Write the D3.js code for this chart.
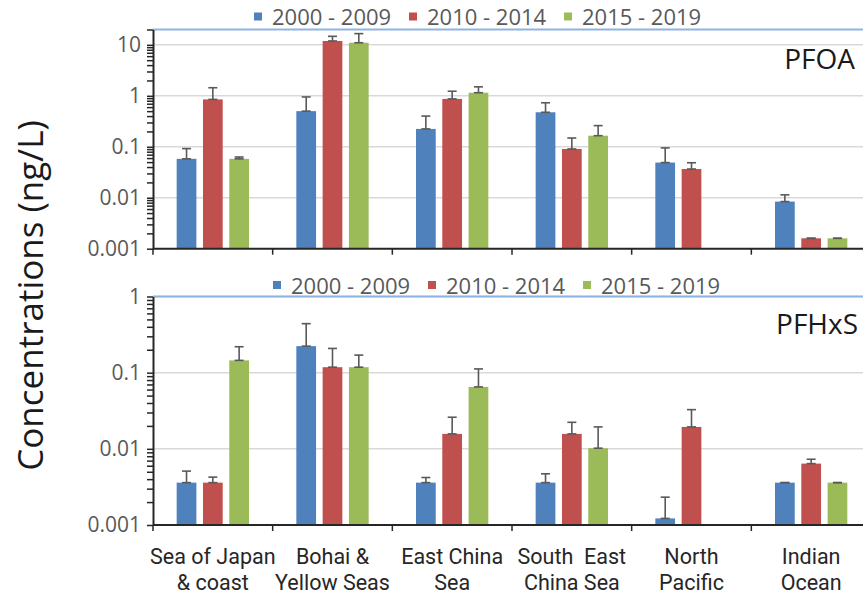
<!DOCTYPE html>
<html>
<head>
<meta charset="utf-8">
<script src="https://cdn.jsdelivr.net/npm/d3@7"></script>
<style>
  html, body { margin: 0; padding: 0; background: #fff; }
  svg { display: block; font-family: "Open Sans", sans-serif; }
</style>
</head>
<body>
<svg id="chart" width="863" height="600"></svg>
<script>
// Sampling regions (x axis categories), one label line per array entry
const categories = ["Sea of Japan & coast", "Bohai & Yellow Seas", "East China Sea",
                    "South East China Sea", "North Pacific", "Indian Ocean"];
const categoryLines = [["Sea of Japan", "& coast"], ["Bohai &", "Yellow Seas"], ["East China", "Sea"],
                       ["South  East", "China Sea"], ["North", "Pacific"], ["Indian", "Ocean"]];

// Sampling periods (series)
const periods = ["2000 - 2009", "2010 - 2014", "2015 - 2019"];
const periodColors = ["#4F81BD", "#C0504D", "#9BBB59"];

// PFOA concentrations (ng/L), null = no data
const pfoa2000 = [0.058, 0.50, 0.224, 0.475, 0.049, 0.0084];
const pfoa2010 = [0.85, 11.9, 0.87, 0.0905, 0.0366, 0.0016];
const pfoa2015 = [0.058, 11.0, 1.15, 0.165, null, 0.0016];
// PFOA upper error (ng/L)
const pfoaErr2000 = [0.034, 0.45, 0.176, 0.255, 0.046, 0.003];
const pfoaErr2010 = [0.59, 2.8, 0.36, 0.058, 0.012, 0];
const pfoaErr2015 = [0.005, 5.6, 0.35, 0.095, null, 0];

// PFHxS concentrations (ng/L)
const pfhxs2000 = [0.0036, 0.223, 0.0036, 0.0036, 0.00122, 0.0036];
const pfhxs2010 = [0.0036, 0.118, 0.0157, 0.0157, 0.0194, 0.0064];
const pfhxs2015 = [0.145, 0.118, 0.065, 0.0102, null, 0.0036];
// PFHxS upper error (ng/L)
const pfhxsErr2000 = [0.0015, 0.217, 0.0006, 0.0011, 0.0011, 0];
const pfhxsErr2010 = [0.00065, 0.09, 0.0103, 0.0066, 0.0133, 0.0009];
const pfhxsErr2015 = [0.074, 0.052, 0.047, 0.0092, null, 0];

// Log axis ticks
const pfoaTicks = [0.001, 0.01, 0.1, 1, 10];
const pfoaTickLabels = ["0.001", "0.01", "0.1", "1", "10"];
const pfhxsTicks = [0.001, 0.01, 0.1, 1];
const pfhxsTickLabels = ["0.001", "0.01", "0.1", "1"];

const yTitle = "Concentrations (ng/L)";

const panels = [
  { name: "PFOA", series: [pfoa2000, pfoa2010, pfoa2015], errors: [pfoaErr2000, pfoaErr2010, pfoaErr2015],
    domain: [0.001, 20], ticks: pfoaTicks, tickLabels: pfoaTickLabels,
    top: 29.5, bottom: 248.7, legendY: 25, labelX: 855, labelY: 69, legendX: 254 },
  { name: "PFHxS", series: [pfhxs2000, pfhxs2010, pfhxs2015], errors: [pfhxsErr2000, pfhxsErr2010, pfhxsErr2015],
    domain: [0.001, 1], ticks: pfhxsTicks, tickLabels: pfhxsTickLabels,
    top: 296.5, bottom: 525, legendY: 293.5, labelX: 858, labelY: 334, legendX: 273 }
];

const svg = d3.select("#chart");
svg.append("rect").attr("width", 863).attr("height", 600).attr("fill", "#fff");

const axisLeftX = 153, plotRight = 871, viewRight = 863;
const x = d3.scaleBand().domain(categories).range([axisLeftX, plotRight]).paddingInner(0).paddingOuter(0);
const xs = d3.scaleBand().domain(periods).range([0, x.bandwidth()]).paddingInner(0.25).paddingOuter(0.9);

const axisColor = "#262626";
const tickTextColor = "#595959";
const errColor = "#595959";

panels.forEach(p => {
  const y = d3.scaleLog().domain(p.domain).range([p.bottom, p.top]);
  const g = svg.append("g");

  // gridlines at each decade
  g.append("g").selectAll("line")
    .data(p.ticks.filter(t => t > p.domain[0]))
    .join("line")
    .attr("x1", axisLeftX).attr("x2", viewRight)
    .attr("y1", d => y(d)).attr("y2", d => y(d))
    .attr("stroke", "#d9d9d9").attr("stroke-width", 1.5);

  // light blue frame line along the top of the plot area
  g.append("line")
    .attr("x1", axisLeftX).attr("x2", viewRight)
    .attr("y1", p.top).attr("y2", p.top)
    .attr("stroke", "#8EB4E3").attr("stroke-width", 2);

  // bars
  p.series.forEach((vals, si) => {
    const rows = vals.map((v, i) => ({ cat: categories[i], v, e: p.errors[si][i] })).filter(d => d.v != null);
    g.append("g").selectAll("rect")
      .data(rows)
      .join("rect")
      .attr("x", d => x(d.cat) + xs(periods[si]))
      .attr("width", xs.bandwidth())
      .attr("y", d => y(d.v))
      .attr("height", d => y(p.domain[0]) - y(d.v))
      .attr("fill", periodColors[si]);

    // error bars (upper)
    const eg = g.append("g").attr("stroke", errColor).attr("stroke-width", 1.6).attr("fill", "none");
    rows.forEach(d => {
      const cx = x(d.cat) + xs(periods[si]) + xs.bandwidth() / 2;
      const y0 = y(d.v), y1 = y(d.v + (d.e || 0));
      eg.append("line").attr("x1", cx).attr("x2", cx).attr("y1", y0).attr("y2", y1);
      eg.append("line").attr("x1", cx - 4.5).attr("x2", cx + 4.5).attr("y1", y1).attr("y2", y1);
      eg.append("line").attr("x1", cx - 4.5).attr("x2", cx + 4.5).attr("y1", y0).attr("y2", y0);
    });
  });

  // y axis with minor log ticks
  const allTicks = y.ticks().filter(t => t <= p.domain[1]);
  const yAxis = d3.axisLeft(y)
    .tickValues(allTicks)
    .tickSize(6)
    .tickSizeOuter(0)
    .tickPadding(6)
    .tickFormat(d => {
      const k = p.ticks.findIndex(t => Math.abs(t - d) / t < 1e-9);
      return k >= 0 ? p.tickLabels[k] : "";
    });
  const ya = g.append("g").attr("transform", `translate(${axisLeftX},0)`).call(yAxis);
  ya.select(".domain").attr("stroke", axisColor).attr("stroke-width", 2);
  ya.selectAll(".tick line").attr("stroke", axisColor).attr("stroke-width", 1.5);
  ya.selectAll(".tick text").attr("fill", tickTextColor).attr("font-size", 21)
    .attr("font-family", "'Open Sans', sans-serif");

  // x axis line and category boundary ticks
  g.append("line")
    .attr("x1", axisLeftX).attr("x2", viewRight)
    .attr("y1", p.bottom).attr("y2", p.bottom)
    .attr("stroke", axisColor).attr("stroke-width", 2);
  g.append("g").selectAll("line")
    .data(categories)
    .join("line")
    .attr("x1", d => x(d)).attr("x2", d => x(d))
    .attr("y1", p.bottom).attr("y2", p.bottom + 6)
    .attr("stroke", axisColor).attr("stroke-width", 1.5);

  // legend
  const lg = g.append("g");
  periods.forEach((name, i) => {
    const lx = p.legendX + i * 155;
    lg.append("rect").attr("x", lx).attr("y", p.legendY - 12.5).attr("width", 8).attr("height", 8)
      .attr("fill", periodColors[i]);
    lg.append("text").attr("x", lx + 18).attr("y", p.legendY)
      .attr("font-size", 22).attr("fill", tickTextColor).text(name);
  });

  // compound label
  g.append("text").attr("x", p.labelX).attr("y", p.labelY)
    .attr("text-anchor", "end").attr("font-size", 28).attr("fill", "#1a1a1a").text(p.name);
});

// category labels below the lower panel, one text per line
const xl = svg.append("g")
  .attr("font-family", "Roboto, sans-serif")
  .attr("font-size", 21.5).attr("fill", "#262626").attr("text-anchor", "middle");
categories.forEach((c, i) => {
  categoryLines[i].forEach((line, j) => {
    xl.append("text")
      .attr("x", x(c) + x.bandwidth() / 2)
      .attr("y", 564 + j * 26)
      .attr("xml:space", "preserve")
      .text(line);
  });
});

// shared y axis title
svg.append("text")
  .attr("transform", "translate(43,295.5) rotate(-90)")
  .attr("text-anchor", "middle")
  .attr("font-size", 35)
  .attr("fill", "#1a1a1a")
  .text(yTitle);
</script>
</body>
</html>
